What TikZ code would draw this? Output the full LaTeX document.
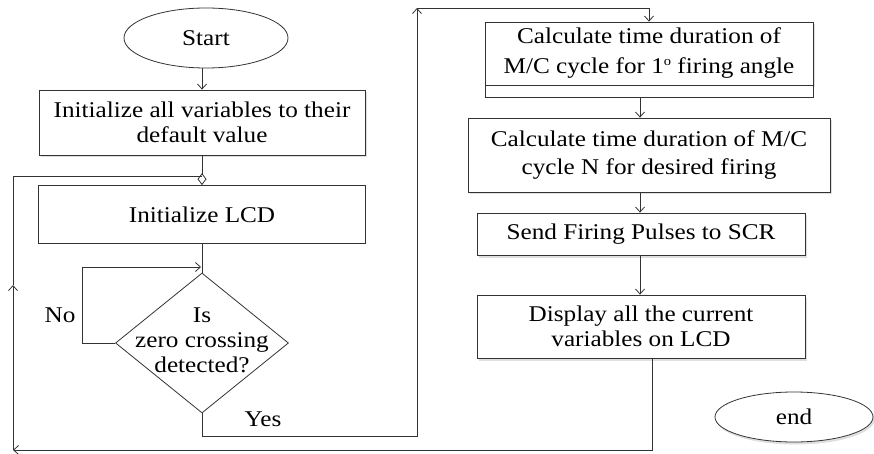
\documentclass[tikz,border=0pt]{standalone}
\usepackage{fontspec}
\setmainfont{Liberation Serif}[FakeStretch=1.12]
\usetikzlibrary{arrows.meta,shapes.geometric,shadows}
\begin{document}
\begin{tikzpicture}[x=1pt,y=-1pt,
  line/.style={draw=black!80, line width=0.8pt},
  arr/.style={line, -{Straight Barb[length=5pt,width=9pt]}},
  shad/.style={drop shadow={opacity=0.25,shadow xshift=1.5pt,shadow yshift=-2.5pt}},
  proc/.style={rectangle, draw=black!80, line width=0.8pt, fill=white, align=center, inner sep=0pt},
  term/.style={ellipse, draw=black!80, line width=0.8pt, fill=white, inner sep=0pt},
  txt/.style={font=\fontsize{22.5}{25}\selectfont, align=center, inner sep=0pt}
]
\useasboundingbox (0,0) rectangle (874,454);

\node (start) [term, minimum width=164pt, minimum height=60pt, txt] at (206,38) {Start};
\node (box1) [proc, shad, txt, minimum width=326pt, minimum height=65pt] at (202,122.5)
  {Initialize all variables to their\\default value};
\node (box2) [proc, txt, minimum width=327pt, minimum height=58pt] at (202,214.5) {Initialize LCD};
\node (dec) [diamond, draw=black!80, line width=0.8pt, fill=white, inner sep=0pt, minimum width=173pt, minimum height=140pt] at (202,343) {};
\node (dectext) [txt] at (202,340) {Is\\zero crossing\\detected?};
\node (no) [txt] at (60,315) {No};
\node (yes) [txt] at (263,419) {Yes};

\node (box3) [proc, shad, txt, minimum width=328pt, minimum height=63pt, font=\fontsize{22.5}{30}\selectfont] at (649,53.5)
  {Calculate time duration of\\M/C cycle for 1\raisebox{8.5pt}{\fontsize{13}{13}\selectfont o} firing angle};
\node (box3b) [proc, minimum width=328pt, minimum height=12pt, anchor=north] at (box3.south) {};
\node (box4) [proc, shad, txt, minimum width=362pt, minimum height=74pt, font=\fontsize{22.5}{28}\selectfont] at (649,155)
  {Calculate time duration of M/C\\cycle N for desired firing};
\node (box5) [proc, shad, txt, minimum width=328pt, minimum height=42pt] at (641,234) {Send Firing Pulses to SCR};
\node (disp) [proc, shad, txt, minimum width=328pt, minimum height=63pt] at (641,326.5)
  {Display all the current\\variables on LCD};
\node (end) [term, shad, minimum width=158pt, minimum height=50pt, txt] at (794,417) {end};

% main flow
\draw[arr] (start.south -| box1.north) -- (box1.north);
\draw[line, -{Diamond[open,length=12pt,width=9pt]}] (box1.south) -- (box2.north);
\draw[line] (box2.south) -- (dec.north);

% No loop
\coordinate (na) at (82,343);
\coordinate (nb) at (82,267);
\coordinate (nc) at (201,267);
\draw[arr] (dec.west) -- (na) -- (nb) -- (nc);

% Yes path
\coordinate (ya) at (417,436);
\coordinate (yb) at (417,8);
\draw[arr] (dec.south) |- (ya) -- (yb);
\draw[arr] (yb) -| (box3.north);

\coordinate (ax) at (640,0);
\draw[arr] (box3b.south -| ax) -- (box4.north -| ax);
\draw[arr] (box4.south -| ax) -- (box5.north -| ax);
\draw[arr] (box5.south -| ax) -- (disp.north -| ax);

% return loop
\coordinate (dx) at (652,0);
\coordinate (la) at (13,450);
\coordinate (lb) at (13,285);
\coordinate (lc) at (13,176);
\coordinate (ld) at (202,176);
\draw[arr] (disp.south -| dx) |- (la);
\draw[arr] (la) -- (lb);
\draw[line] (lb) -- (lc) -- (ld);
\end{tikzpicture}
\end{document}
